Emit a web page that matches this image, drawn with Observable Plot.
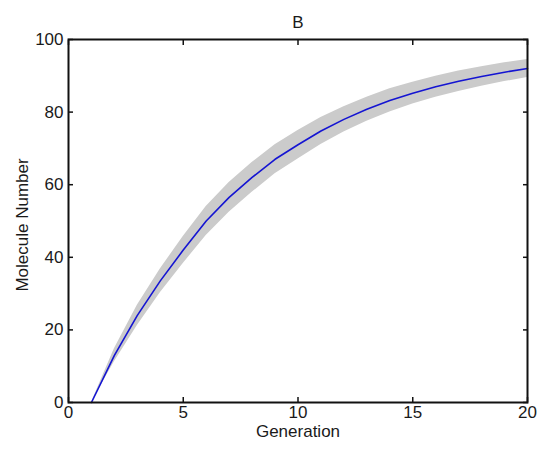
<!DOCTYPE html>
<html>
<head>
<meta charset="utf-8">
<script src="https://cdn.jsdelivr.net/npm/d3@7"></script>
<script src="https://cdn.jsdelivr.net/npm/@observablehq/plot@0.6"></script>
<style>
  body { margin: 0; background: #fff; }
  svg { font-family: "Liberation Sans", Arial, sans-serif; }
</style>
</head>
<body>
<div id="chart"></div>
<script>
const generation = [1,2,3,4,5,6,7,8,9,10,11,12,13,14,15,16,17,18,19,20];
const meanMolecules = [0,13,24,33.5,42,50,56.5,62,67,71,74.8,78,80.8,83.2,85.2,87,88.5,89.8,91,92];
const lowerBand = [0,11.2,21.2,30.2,38.3,46,52.4,57.9,63,67.1,71.1,74.5,77.5,80,82.2,84.1,85.7,87.1,88.4,89.5];
const upperBand = [0,14.8,26.8,36.8,45.7,54,60.6,66.1,71,74.9,78.5,81.5,84.1,86.4,88.2,89.9,91.3,92.5,93.6,94.5];
const xTicks = [0,5,10,15,20];
const yTicks = [0,20,40,60,80,100];
const titleText = "B";
const xLabel = "Generation";
const yLabel = "Molecule Number";

const rows = generation.map((g, i) => ({g, m: meanMolecules[i], lo: lowerBand[i], hi: upperBand[i]}));

const fs = 17;
const chart = Plot.plot({
  width: 545,
  height: 451,
  marginLeft: 68,
  marginRight: 18,
  marginTop: 39,
  marginBottom: 49,
  style: {fontSize: fs + "px", fontFamily: '"Liberation Sans", Arial, sans-serif', color: "#1a1a1a", background: "#fff"},
  x: {domain: [0, 20]},
  y: {domain: [0, 100]},
  marks: [
    Plot.areaY(rows, {x: "g", y1: "lo", y2: "hi", fill: "#cbcbcb", curve: "linear"}),
    Plot.lineY(rows, {x: "g", y: "m", stroke: "#1414d2", strokeWidth: 1.6}),
    // inward ticks on all four sides
    Plot.axisX(xTicks, {anchor: "bottom", tickSize: 5, dy: -5, tickFormat: () => "", stroke: "#111", strokeWidth: 1.5, label: null}),
    Plot.axisX(xTicks, {anchor: "top", tickSize: 5, dy: 5, tickFormat: () => "", stroke: "#111", strokeWidth: 1.5, label: null}),
    Plot.axisY(yTicks, {anchor: "left", tickSize: 5, dx: 5, tickFormat: () => "", stroke: "#111", strokeWidth: 1.5, label: null}),
    Plot.axisY(yTicks, {anchor: "right", tickSize: 5, dx: -5, tickFormat: () => "", stroke: "#111", strokeWidth: 1.5, label: null}),
    // labels
    Plot.axisX(xTicks, {anchor: "bottom", tickSize: 0, tickPadding: 3, label: null, fontSize: fs, fill: "#1a1a1a"}),
    Plot.axisY(yTicks, {anchor: "left", tickSize: 0, tickPadding: 5, label: null, fontSize: fs, fill: "#1a1a1a"}),
    Plot.frame({stroke: "#111", strokeWidth: 2}),
    Plot.text([titleText], {frameAnchor: "top", dy: -24, fontSize: fs, fill: "#1a1a1a"}),
    Plot.text([xLabel], {frameAnchor: "bottom", dy: 34, fontSize: fs, fill: "#1a1a1a"}),
    Plot.text([yLabel], {frameAnchor: "left", textAnchor: "middle", dx: -46, dy: 4, rotate: -90, fontSize: fs, fill: "#1a1a1a"})
  ]
});
document.getElementById("chart").appendChild(chart);
</script>
</body>
</html>
